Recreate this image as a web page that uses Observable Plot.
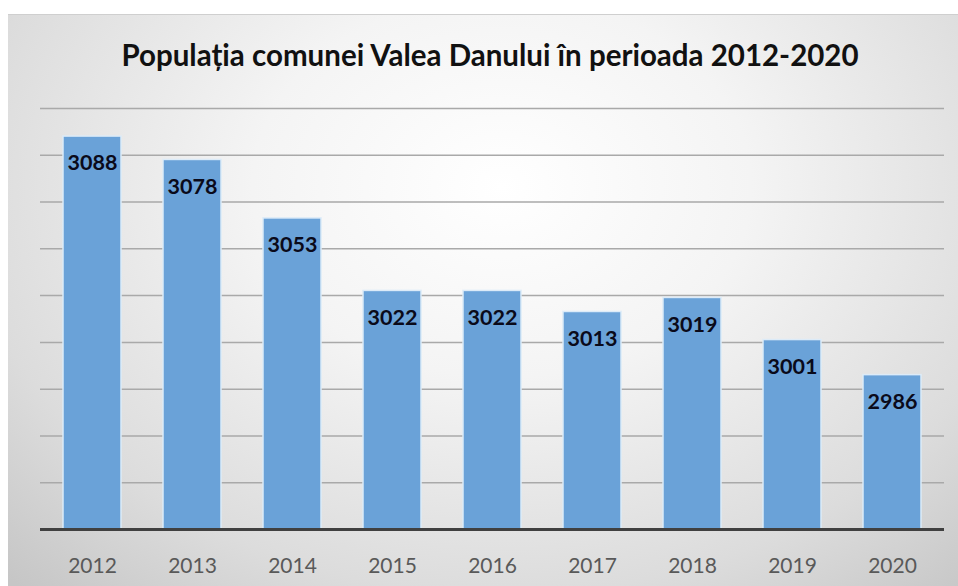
<!DOCTYPE html>
<html>
<head>
<meta charset="utf-8">
<script src="https://cdn.jsdelivr.net/npm/d3@7"></script>
<script src="https://cdn.jsdelivr.net/npm/@observablehq/plot@0.6"></script>
<style>
  html, body { margin: 0; padding: 0; background: #ffffff; }
  #chart {
    position: absolute; left: 8px; top: 14px; width: 950px; height: 572px;
    background: radial-gradient(ellipse 75% 95% at 52% 30%, #ffffff 0%, #f4f4f4 35%, #dcdcdc 75%, #c6c6c6 100%);
    border-top: 1px solid #cfcfcf;
    overflow: hidden;
  }
  #title {
    height: 80px; line-height: 80px; text-align: center;
    font-family: Lato, "Open Sans", sans-serif; font-weight: bold; font-size: 29.5px; color: #111;
    padding-left: 14px;
  }
</style>
</head>
<body>
<div id="chart"><div id="title">Populația comunei Valea Danului în perioada 2012-2020</div></div>
<script>
const years = ["2012", "2013", "2014", "2015", "2016", "2017", "2018", "2019", "2020"];
const population = [3088, 3078, 3053, 3022, 3022, 3013, 3019, 3001, 2986];
const yMin = 2920;
const yMax = 3100;
const gridValues = [2940, 2960, 2980, 3000, 3020, 3040, 3060, 3080, 3100];

const data = years.map((year, i) => ({year, value: population[i]}));

const plot = Plot.plot({
  width: 950,
  height: 492,
  marginLeft: 32,
  marginRight: 14,
  marginTop: 13,
  marginBottom: 58,
  style: {background: "transparent", fontFamily: "Lato, 'Open Sans', sans-serif", overflow: "visible"},
  x: {domain: years, paddingInner: 0.42, paddingOuter: 0.21, label: null, tickSize: 0, tickPadding: 30},
  y: {domain: [yMin, yMax], axis: null},
  marks: [
    Plot.ruleY(gridValues, {stroke: "#a9a9a9", strokeWidth: 1.5}),
    Plot.barY(data, {x: "year", y1: yMin, y2: "value", fill: "#6aa2d8", stroke: "#dcebf8", strokeWidth: 1.5}),
    Plot.ruleY([yMin], {stroke: "#404040", strokeWidth: 3}),
    Plot.text(data, {x: "year", y: "value", text: d => String(d.value), dy: 27, fontSize: 21.5, fontWeight: "bold", fill: "#0a0a1a"}),
    Plot.axisX({tickSize: 0, tickPadding: 29, fontSize: 21, color: "#595959", label: null})
  ]
});
document.getElementById("chart").appendChild(plot);
</script>
</body>
</html>
